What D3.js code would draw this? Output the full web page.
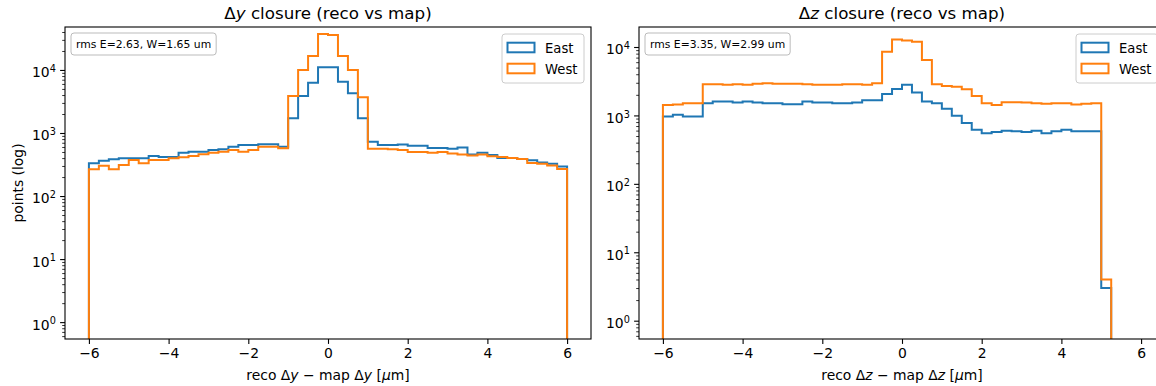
<!DOCTYPE html>
<html>
<head>
<meta charset="utf-8">
<script src="https://cdn.jsdelivr.net/npm/d3@7/dist/d3.min.js"></script>
<style>
  body { margin: 0; background: #fff; }
  svg { display: block; font-family: "DejaVu Sans", sans-serif; }
</style>
</head>
<body>
<div id="chart"></div>
<script>
// bin edges (um)
const dyEdges = [-6, -5.75, -5.5, -5.25, -5, -4.75, -4.5, -4.25, -4, -3.75, -3.5, -3.25,
  -3, -2.75, -2.5, -2.25, -2, -1.75, -1.5, -1.25, -1, -0.75, -0.5, -0.25, 0,
  0.25, 0.5, 0.75, 1, 1.25, 1.5, 1.75, 2, 2.25, 2.5, 2.75, 3, 3.25, 3.5, 3.75,
  4, 4.25, 4.5, 4.75, 5, 5.25, 5.5, 5.75, 6];
const dzEdges = [-6, -5.75, -5.5, -5.25, -5, -4.75, -4.5, -4.25, -4, -3.75, -3.5, -3.25,
  -3, -2.75, -2.5, -2.25, -2, -1.75, -1.5, -1.25, -1, -0.75, -0.5, -0.25, 0,
  0.25, 0.5, 0.75, 1, 1.25, 1.5, 1.75, 2, 2.25, 2.5, 2.75, 3, 3.25, 3.5, 3.75,
  4, 4.25, 4.5, 4.75, 5, 5.25];

// counts per bin
const dyEast = [331, 363, 383, 397, 397, 397, 432, 416, 416, 486, 505, 505, 537, 551, 606, 645, 645, 663, 663, 606,
  1710, 3860, 6290, 11000, 11000, 6520, 4270, 1710,
  728, 643, 643, 659, 627, 627, 580, 580, 565, 589, 457, 486, 446, 403, 403, 388, 369, 341, 324, 294];
const dyWest = [265, 303, 265, 311, 373, 331, 373, 373, 397, 411, 432, 459, 486, 505, 537, 505, 537, 606, 606, 571,
  3860, 10000, 16700, 37300, 35900, 16700, 10000, 3690,
  565, 565, 551, 537, 499, 499, 486, 499, 474, 457, 439, 457, 428, 418, 403, 388, 333, 324, 305, 268];
const dzEast = [966, 1020, 966, 966,
  1510, 1600, 1600, 1550, 1600, 1550, 1510, 1510, 1460, 1460, 1600, 1550, 1550, 1510, 1510, 1550, 1660, 1660,
  2050, 2430, 2810, 2170, 1600,
  1510, 1250, 990, 772, 617,
  551, 570, 597, 585, 570, 597, 551, 585, 617, 585, 585, 585, 3];
const dzWest = [1420, 1450, 1500, 1500,
  2850, 2850, 2800, 2850, 2800, 2900, 2950, 2900, 2900, 2900, 2850, 2800, 2800, 2800, 2850, 2850, 2800, 2950,
  8500, 12900, 12400, 11900, 6460,
  2850, 2700, 2630, 2410, 1930,
  1510, 1420, 1560, 1560, 1540, 1510, 1480, 1510, 1510, 1440, 1480, 1500, 4];

const seriesNames = ['East', 'West'];
const seriesColors = ['#1f77b4', '#ff7f0e'];
const xTicks = [-6, -4, -2, 0, 2, 4, 6];
const yTicks = [1, 10, 100, 1000, 10000];

const W = 1156, H = 386;
const fs = 13.9; // 10pt at 100 dpi
const svg = d3.select('#chart').append('svg').attr('width', W).attr('height', H);
svg.append('rect').attr('width', W).attr('height', H).attr('fill', '#fff');

function drawPanel(p) {
  const w = 526, h = 312;
  const g = svg.append('g').attr('transform', 'translate(' + p.left + ',' + p.top + ')');

  const x = d3.scaleLinear().domain([-6.6, 6.6]).range([0, w]);
  const y = d3.scaleLog().domain(p.yDomain).range([h, 0]);

  g.append('clipPath').attr('id', p.id + '-clip')
    .append('rect').attr('width', w).attr('height', h);

  const line = d3.line().x(d => x(d[0])).y(d => y(d[1]));
  const floor = p.yDomain[0];

  p.series.forEach((vals, k) => {
    const pts = [[p.edges[0], floor]];
    vals.forEach((v, i) => {
      pts.push([p.edges[i], v]);
      pts.push([p.edges[i + 1], v]);
    });
    pts.push([p.edges[vals.length], floor]);
    g.append('path')
      .attr('clip-path', 'url(#' + p.id + '-clip)')
      .attr('d', line(pts))
      .attr('fill', 'none')
      .attr('stroke', seriesColors[k])
      .attr('stroke-width', 2)
      .attr('stroke-linejoin', 'miter');
  });

  // x axis
  const xa = g.append('g').attr('transform', 'translate(0,' + h + ')')
    .call(d3.axisBottom(x).tickValues(xTicks).tickSize(4.9).tickPadding(4.2)
      .tickFormat(d => d < 0 ? '\u2212' + Math.abs(d) : d));
  xa.select('.domain').remove();
  xa.selectAll('text').attr('font-size', fs).attr('fill', '#000').attr('font-family', 'DejaVu Sans');
  xa.selectAll('line').attr('stroke', '#000').attr('stroke-width', 1.1);

  // y axis minor ticks
  const minor = [];
  for (let e = -1; e <= 4; e++) {
    for (let m = 2; m <= 9; m++) {
      const v = m * Math.pow(10, e);
      if (v >= p.yDomain[0] && v <= p.yDomain[1]) minor.push(v);
    }
  }
  const ym = g.append('g').call(d3.axisLeft(y).tickValues(minor).tickSize(2.8).tickFormat(''));
  ym.select('.domain').remove();
  ym.selectAll('line').attr('stroke', '#000').attr('stroke-width', 0.8);

  const ya = g.append('g').call(d3.axisLeft(y).tickValues(yTicks).tickSize(4.9).tickPadding(4.2).tickFormat(''));
  ya.select('.domain').remove();
  ya.selectAll('line').attr('stroke', '#000').attr('stroke-width', 1.1);
  ya.selectAll('.tick text')
    .attr('font-size', fs).attr('fill', '#000').attr('font-family', 'DejaVu Sans')
    .attr('dy', '0.5em')
    .each(function (d) {
      const t = d3.select(this);
      t.append('tspan').text('10');
      t.append('tspan').attr('dy', '-0.55em').attr('font-size', fs * 0.7).text(Math.round(Math.log10(d)));
    });

  // spines
  g.append('rect').attr('width', w).attr('height', h)
    .attr('fill', 'none').attr('stroke', '#000').attr('stroke-width', 1.1);

  // title
  const title = g.append('text').attr('x', w / 2).attr('y', -8)
    .attr('text-anchor', 'middle').attr('font-size', 16.7).attr('fill', '#000');
  title.append('tspan').text('\u0394');
  title.append('tspan').attr('font-style', 'italic').text(p.v);
  title.append('tspan').text(' closure (reco vs map)');

  // x label
  const xl = g.append('text').attr('x', w / 2).attr('y', h + 41)
    .attr('text-anchor', 'middle').attr('font-size', fs).attr('fill', '#000');
  xl.append('tspan').text('reco \u0394');
  xl.append('tspan').attr('font-style', 'italic').text(p.v);
  xl.append('tspan').text(' \u2212 map \u0394');
  xl.append('tspan').attr('font-style', 'italic').text(p.v);
  xl.append('tspan').text(' [');
  xl.append('tspan').attr('font-style', 'italic').text('\u03bc');
  xl.append('tspan').text('m]');

  if (p.yLabel) {
    g.append('text')
      .attr('transform', 'translate(' + (-42) + ',' + (h / 2) + ') rotate(-90)')
      .attr('text-anchor', 'middle').attr('font-size', fs).attr('fill', '#000')
      .text(p.yLabel);
  }

  // rms box
  const rg = g.append('g').attr('transform', 'translate(6,6)');
  const rbox = rg.append('rect').attr('rx', 3).attr('fill', '#fff')
    .attr('stroke', '#bbb').attr('stroke-width', 1);
  const rt = rg.append('text').attr('x', 5).attr('y', 15)
    .attr('font-size', 10.8).attr('fill', '#000').text(p.rms);
  const bb = rt.node().getBBox();
  rbox.attr('width', bb.width + 10).attr('height', 22);

  // legend
  const lw = 82, lh = 49;
  const lg = g.append('g').attr('transform', 'translate(' + (w - 7 - lw) + ',7)');
  lg.append('rect').attr('width', lw).attr('height', lh).attr('rx', 3)
    .attr('fill', '#fff').attr('fill-opacity', 0.8)
    .attr('stroke', '#ccc').attr('stroke-width', 1);
  seriesNames.forEach((name, i) => {
    const row = lg.append('g').attr('transform', 'translate(0,' + (13.5 + i * 21) + ')');
    row.append('rect').attr('x', 5.5).attr('y', -4.8).attr('width', 27).attr('height', 9.6)
      .attr('fill', 'none').attr('stroke', seriesColors[i]).attr('stroke-width', 2);
    row.append('text').attr('x', 43).attr('y', 5)
      .attr('font-size', 13.2).attr('fill', '#000').text(name);
  });
}

drawPanel({
  id: 'dy', left: 65, top: 27, edges: dyEdges, series: [dyEast, dyWest],
  yDomain: [0.54, 48000], v: 'y', yLabel: 'points (log)', rms: 'rms E=2.63, W=1.65 um'
});
drawPanel({
  id: 'dz', left: 639, top: 27, edges: dzEdges, series: [dzEast, dzWest],
  yDomain: [0.54, 19600], v: 'z', yLabel: null, rms: 'rms E=3.35, W=2.99 um'
});
</script>
</body>
</html>
